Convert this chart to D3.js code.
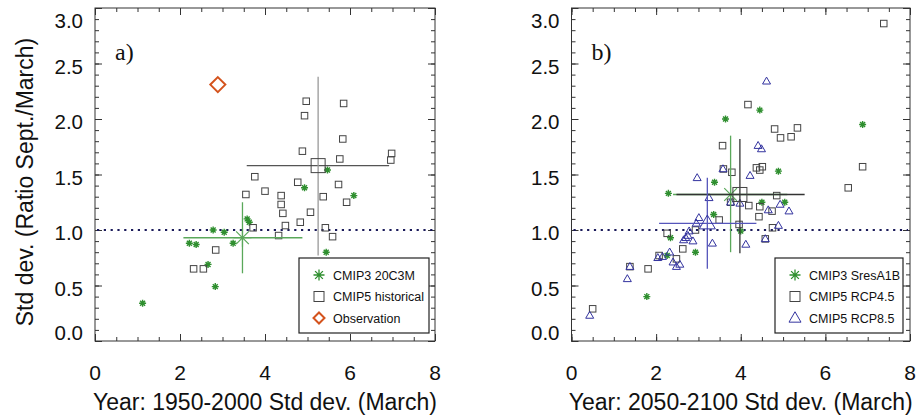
<!DOCTYPE html>
<html>
<head>
<meta charset="utf-8">
<script src="https://cdn.jsdelivr.net/npm/d3@7"></script>
<style>
body { margin: 0; background: #fff; }
text { font-family: "Liberation Sans", Arial, sans-serif; }
</style>
</head>
<body>
<script>
// panel a: 1950-2000 (x = March std dev, y = ratio Sept./March)
var cmip3Hist = [[1.12,0.34],[2.22,0.88],[2.38,0.87],[2.66,0.69],[2.83,0.49],[2.78,1.00],[3.04,0.98],
  [3.25,0.88],[3.58,1.10],[3.63,1.07],[4.93,1.38],[5.47,1.54],[5.44,0.80],[6.09,1.31]];
var cmip5Hist = [[4.97,2.16],[5.85,2.14],[4.93,2.03],[5.83,1.82],[4.88,1.71],[6.98,1.69],[6.96,1.63],
  [5.76,1.64],[3.76,1.48],[4.77,1.43],[5.73,1.41],[4.00,1.35],[3.55,1.32],[4.38,1.31],[5.37,1.30],
  [5.92,1.25],[4.38,1.23],[4.42,1.15],[5.07,1.16],[4.83,1.07],[3.72,1.02],[4.48,1.04],[5.42,1.02],
  [4.32,0.95],[5.59,0.94],[2.84,0.82],[2.32,0.65],[2.55,0.65]];
var observation = [[2.89,2.31]];
// mean and spread: [x, y, xlo, xhi, ylo, yhi]
var cmip3HistMean = [3.47,0.93,2.08,4.88,0.61,1.25];
var cmip5HistMean = [5.25,1.58,3.57,6.92,0.77,2.38];

// panel b: 2050-2100
var cmip3A1b = [[1.78,0.40],[2.29,1.33],[2.34,0.93],[2.26,0.77],[2.93,0.80],[3.36,1.14],[3.38,1.43],
  [3.64,2.00],[4.45,2.08],[4.00,0.99],[4.50,1.25],[4.89,1.53],[5.04,1.25],[6.88,1.95]];
var cmip5Rcp45 = [[7.38,2.86],[4.17,2.13],[4.80,1.91],[5.34,1.92],[4.94,1.83],[5.19,1.84],[3.57,1.76],
  [6.88,1.57],[4.51,1.57],[4.37,1.56],[4.45,1.54],[3.79,1.52],[3.59,1.55],[6.54,1.38],[4.85,1.31],
  [4.19,1.22],[4.45,1.21],[4.74,1.17],[4.43,1.12],[3.76,1.25],[3.49,1.09],[3.96,1.05],[4.75,1.02],
  [4.58,0.92],[2.93,1.00],[2.26,0.97],[2.63,0.83],[2.48,0.74],[2.07,0.77],[1.38,0.67],[1.81,0.65],
  [0.50,0.29]];
var cmip5Rcp85 = [[4.61,2.34],[4.41,1.76],[4.49,1.73],[3.58,1.55],[4.22,1.49],[2.97,1.47],[3.25,1.29],
  [3.76,1.25],[3.98,1.24],[4.65,1.18],[4.93,1.23],[5.14,1.17],[3.01,1.11],[2.95,1.06],[4.89,1.04],
  [4.58,0.92],[4.12,0.87],[3.33,0.88],[2.87,0.90],[2.78,0.99],[2.75,0.95],[2.70,0.93],[2.65,0.91],
  [2.32,0.80],[2.15,0.76],[2.04,0.75],[2.40,0.71],[2.56,0.69],[2.48,0.67],[1.38,0.67],[1.32,0.56],
  [0.43,0.23]];
var cmip3A1bMean = [3.76,1.32,2.40,5.10,0.80,1.85];
var cmip5Rcp45Mean = [3.98,1.32,2.48,5.51,0.79,1.82];
var cmip5Rcp85Mean = [3.21,1.06,2.07,4.37,0.65,1.47];

var xTicks = [0, 2, 4, 6, 8];
var yTicks = [0, 0.5, 1, 1.5, 2, 2.5, 3];
var labelsA = ["CMIP3 20C3M", "CMIP5 historical", "Observation"];
var labelsB = ["CMIP3 SresA1B", "CMIP5 RCP4.5", "CMIP5 RCP8.5"];

var green = "#2f8f2f", greenLine = "#5aa85a", grey = "#444", blue = "#33339f", orange = "#d4531d";

var svg = d3.select("body").append("svg").attr("width", 917).attr("height", 420);

// symbol helpers
function star(g, cx, cy, r, col, w) {
  var d = r * 0.7071;
  g.append("path")
    .attr("d", "M" + (cx - r) + "," + cy + "H" + (cx + r) + "M" + cx + "," + (cy - r) + "V" + (cy + r) +
      "M" + (cx - d) + "," + (cy - d) + "L" + (cx + d) + "," + (cy + d) +
      "M" + (cx - d) + "," + (cy + d) + "L" + (cx + d) + "," + (cy - d))
    .attr("stroke", col).attr("stroke-width", w).attr("fill", "none");
}
function square(g, cx, cy, s, col) {
  g.append("rect").attr("x", cx - s / 2).attr("y", cy - s / 2).attr("width", s).attr("height", s)
    .attr("fill", "none").attr("stroke", col).attr("stroke-width", 1);
}
function triangle(g, cx, cy, s, col) {
  var h = s * 0.866;
  g.append("path")
    .attr("d", "M" + cx + "," + (cy - h * 0.6) + "L" + (cx + s / 2) + "," + (cy + h * 0.4) + "L" + (cx - s / 2) + "," + (cy + h * 0.4) + "Z")
    .attr("fill", "none").attr("stroke", col).attr("stroke-width", 1);
}
function diamond(g, cx, cy, s, col, w) {
  g.append("path")
    .attr("d", "M" + cx + "," + (cy - s / 2) + "L" + (cx + s / 2) + "," + cy + "L" + cx + "," + (cy + s / 2) + "L" + (cx - s / 2) + "," + cy + "Z")
    .attr("fill", "none").attr("stroke", col).attr("stroke-width", w);
}

function panel(opt) {
  var x = d3.scaleLinear().domain([0, 8]).range([opt.left, opt.left + opt.width]);
  var y = d3.scaleLinear().domain([0, 3]).range([341, 8]);
  var g = svg.append("g");

  // inward ticks on all four sides
  var minorX = d3.range(0, 8.01, 0.5), minorY = d3.range(0, 3.01, 0.1);
  function ax(axis, tr, vals, size) {
    var a = g.append("g").attr("transform", tr)
      .call(axis.tickValues(vals).tickSize(size).tickFormat(""));
    a.select(".domain").remove();
    a.selectAll("line").attr("stroke", "#333").attr("stroke-width", 1);
  }
  ax(d3.axisBottom(x), "translate(0,341)", minorX, -4);
  ax(d3.axisBottom(x), "translate(0,341)", xTicks, -7);
  ax(d3.axisTop(x), "translate(0,8)", minorX, -4);
  ax(d3.axisTop(x), "translate(0,8)", xTicks, -7);
  ax(d3.axisLeft(y), "translate(" + opt.left + ",0)", minorY, -4);
  ax(d3.axisLeft(y), "translate(" + opt.left + ",0)", yTicks, -7);
  ax(d3.axisRight(y), "translate(" + (opt.left + opt.width) + ",0)", minorY, -4);
  ax(d3.axisRight(y), "translate(" + (opt.left + opt.width) + ",0)", yTicks, -7);

  g.append("rect").attr("x", opt.left).attr("y", 8).attr("width", opt.width).attr("height", 333)
    .attr("fill", "none").attr("stroke", "#333").attr("stroke-width", 1);

  // tick labels
  g.selectAll(".xl").data(xTicks).enter().append("text")
    .attr("x", function(d) { return x(d); }).attr("y", 380)
    .attr("text-anchor", "middle").attr("font-size", 21).attr("fill", "#111")
    .text(function(d) { return d; });
  g.selectAll(".yl").data(yTicks).enter().append("text")
    .attr("x", opt.left - 12)
    .attr("y", function(d) { return Math.min(333, Math.max(21, y(d) + 3)) + 7; })
    .attr("text-anchor", "end").attr("font-size", 20.5).attr("fill", "#111")
    .text(function(d) { return d.toFixed(1); });

  g.append("text").attr("x", opt.left + opt.width / 2).attr("y", 410)
    .attr("text-anchor", "middle").attr("font-size", 23).attr("fill", "#111").text(opt.xTitle);

  g.append("text").attr("x", opt.left + 20).attr("y", 60)
    .style("font-family", "'Liberation Serif', 'Times New Roman', serif")
    .attr("font-size", 24).attr("fill", "#111").text(opt.tag);

  // reference line at ratio 1
  g.append("line").attr("x1", opt.left + 2).attr("x2", opt.left + opt.width - 2)
    .attr("y1", y(1)).attr("y2", y(1))
    .attr("stroke", "#1a1a5a").attr("stroke-width", 2.2).attr("stroke-dasharray", "2.2,4.6");

  opt.series.forEach(function(s) {
    s.data.forEach(function(d) { s.draw(g, x(d[0]), y(d[1]), false); });
  });
  opt.series.forEach(function(s) {
    var m = s.mean;
    if (!m) return;
    g.append("line").attr("x1", x(m[2])).attr("x2", x(m[3])).attr("y1", y(m[1])).attr("y2", y(m[1]))
      .attr("stroke", s.hLine).attr("stroke-width", 1.3);
    g.append("line").attr("x1", x(m[0])).attr("x2", x(m[0])).attr("y1", y(m[4])).attr("y2", y(m[5]))
      .attr("stroke", s.vLine).attr("stroke-width", 1.3);
    s.draw(g, x(m[0]), y(m[1]), true);
  });

  // legend
  var lg = g.append("g");
  lg.append("rect").attr("x", opt.legX).attr("y", 258).attr("width", opt.legW).attr("height", 75)
    .attr("fill", "#fff").attr("stroke", "#222").attr("stroke-width", 1.2);
  opt.series.forEach(function(s, i) {
    var cy = 275 + i * 21.5;
    s.legend(lg, opt.legX + 20, cy);
    lg.append("text").attr("x", opt.legX + 34).attr("y", cy + 4.5)
      .attr("font-size", 12.5).attr("fill", "#111").text(opt.labels[i]);
  });
}

var drawStar = function(g, cx, cy, big) { star(g, cx, cy, big ? 9 : 3.5, big ? greenLine : green, big ? 1.2 : 1.4); };
var drawSquare = function(g, cx, cy, big) { square(g, cx, cy, big ? 14 : 6.5, grey); };
var drawTri = function(g, cx, cy, big) { triangle(g, cx, cy, big ? 16 : 8, blue); };

panel({
  left: 95, width: 340, tag: "a)", legX: 299, legW: 130, labels: labelsA,
  xTitle: "Year: 1950-2000 Std dev. (March)",
  series: [
    { data: cmip3Hist, mean: cmip3HistMean, draw: drawStar, hLine: greenLine, vLine: greenLine,
      legend: function(g, cx, cy) { star(g, cx, cy, 5.5, green, 1.3); } },
    { data: cmip5Hist, mean: cmip5HistMean, draw: drawSquare, hLine: "#555", vLine: "#999",
      legend: function(g, cx, cy) { square(g, cx, cy, 10, grey); } },
    { data: observation, draw: function(g, cx, cy) { diamond(g, cx, cy, 15, orange, 2); },
      legend: function(g, cx, cy) { diamond(g, cx, cy, 11, orange, 2); } }
  ]
});

panel({
  left: 571.5, width: 338.5, tag: "b)", legX: 775, legW: 128, labels: labelsB,
  xTitle: "Year: 2050-2100 Std dev. (March)",
  series: [
    { data: cmip3A1b, mean: cmip3A1bMean, draw: drawStar, hLine: greenLine, vLine: greenLine,
      legend: function(g, cx, cy) { star(g, cx, cy, 5.5, green, 1.3); } },
    { data: cmip5Rcp45, mean: cmip5Rcp45Mean, draw: drawSquare, hLine: "#333", vLine: "#333",
      legend: function(g, cx, cy) { square(g, cx, cy, 10, grey); } },
    { data: cmip5Rcp85, mean: cmip5Rcp85Mean, draw: drawTri, hLine: "#5555bb", vLine: "#5555bb",
      legend: function(g, cx, cy) { triangle(g, cx, cy, 12, blue); } }
  ]
});

// shared y-axis title
svg.append("text").attr("transform", "translate(33,182) rotate(-90)")
  .attr("text-anchor", "middle").attr("font-size", 23).attr("fill", "#111")
  .text("Std dev. (Ratio Sept./March)");
</script>
</body>
</html>
